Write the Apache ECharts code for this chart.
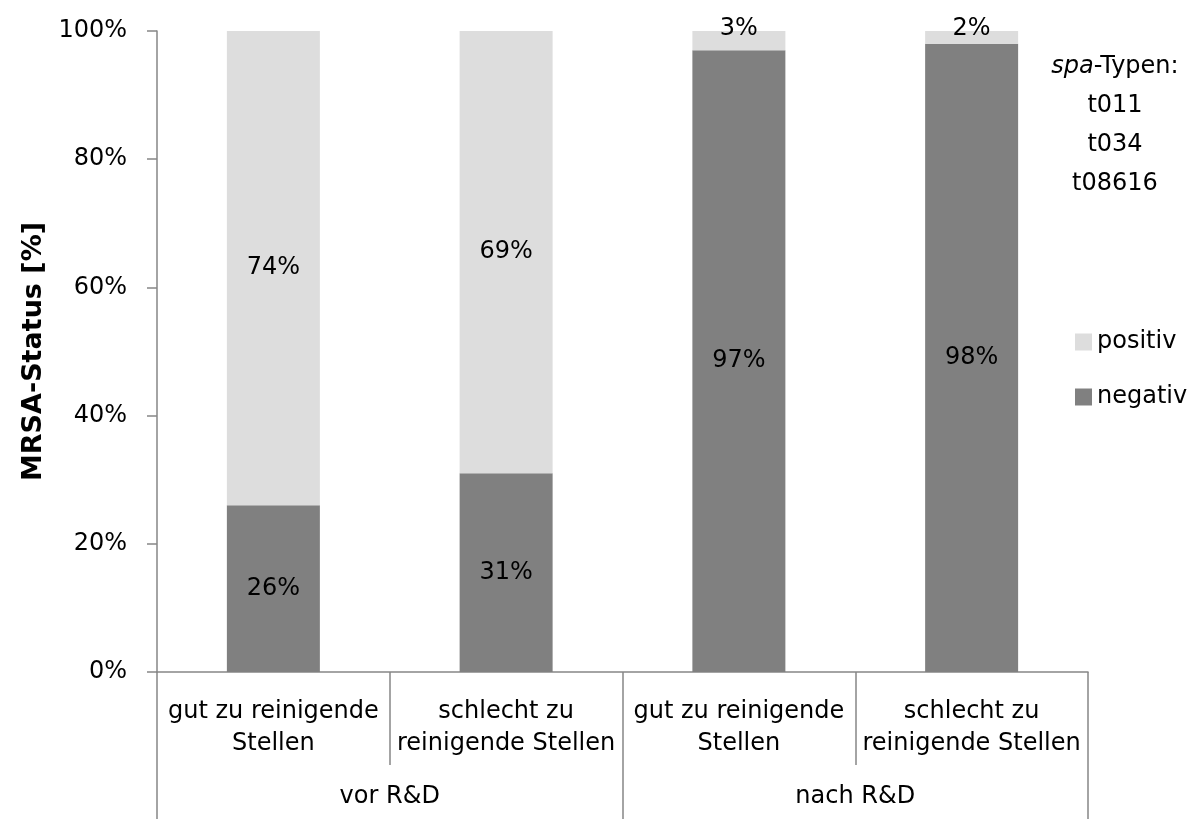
<!DOCTYPE html>
<html>
<head>
<meta charset="utf-8">
<script src="https://cdn.jsdelivr.net/npm/echarts@6/dist/echarts.min.js"></script>
<style>
  html, body { margin: 0; padding: 0; background: #fff; }
  #chart { width: 1199px; height: 819px; }
</style>
</head>
<body>
<div id="chart"></div>
<script>
// Sampling sites, grouped by before / after cleaning & disinfection
const categories = [
  'gut zu reinigende\nStellen',
  'schlecht zu\nreinigende Stellen',
  'gut zu reinigende\nStellen',
  'schlecht zu\nreinigende Stellen'
];
const groups = ['vor R&D', 'nach R&D'];

// MRSA status shares in percent
const negativValues = [26, 31, 97, 98];
const positivValues = [74, 69, 3, 2];

const yTicks = [0, 20, 40, 60, 80, 100];
const spaTypes = ['t011', 't034', 't08616'];

const FONT = 'DejaVu Sans';
const AXIS_GRAY = '#868686';
const COLOR_POS = '#dddddd';
const COLOR_NEG = '#808080';

const chart = echarts.init(document.getElementById('chart'));

const labelBase = {
  show: true,
  position: 'inside',
  color: '#000',
  fontFamily: FONT,
  fontSize: 24,
  formatter: p => p.value + '%'
};

// small segments get their label just above the bar
const positivData = positivValues.map(v => v < 10
  ? { value: v, label: { position: 'top', distance: -10 } }
  : v);

chart.setOption({
  animation: false,
  textStyle: { fontFamily: FONT },
  grid: { left: 157, right: 111, top: 31, bottom: 147, containLabel: false },
  legend: {
    orient: 'vertical',
    left: 1070,
    top: 325,
    itemWidth: 17,
    itemHeight: 17,
    itemGap: 31,
    icon: 'rect',
    data: ['positiv', 'negativ'],
    textStyle: { fontFamily: FONT, fontSize: 24, color: '#000', padding: [0, 0, 0, 0] }
  },
  xAxis: [
    {
      type: 'category',
      data: categories,
      position: 'bottom',
      axisLine: { show: true, lineStyle: { color: AXIS_GRAY, width: 1.5 } },
      axisTick: { show: true, interval: 0, length: 93, lineStyle: { color: AXIS_GRAY, width: 1.5 } },
      axisLabel: {
        interval: 0,
        margin: 24,
        color: '#000',
        fontFamily: FONT,
        fontSize: 24,
        lineHeight: 32
      }
    },
    {
      type: 'category',
      data: groups,
      position: 'bottom',
      axisLine: { show: false },
      axisTick: { show: true, interval: 0, length: 150, lineStyle: { color: AXIS_GRAY, width: 1.5 } },
      axisLabel: {
        interval: 0,
        margin: 109,
        color: '#000',
        fontFamily: FONT,
        fontSize: 24,
        lineHeight: 32
      }
    }
  ],
  yAxis: {
    type: 'value',
    min: yTicks[0],
    max: yTicks[yTicks.length - 1],
    interval: 20,
    name: 'MRSA-Status [%]',
    nameLocation: 'middle',
    nameRotate: 90,
    nameGap: 98,
    nameTextStyle: { fontFamily: FONT, fontSize: 27, fontWeight: 'bold', color: '#000' },
    axisLine: { show: true, lineStyle: { color: AXIS_GRAY, width: 1.5 } },
    axisTick: { show: true, length: 10, lineStyle: { color: AXIS_GRAY, width: 1.5 } },
    splitLine: { show: false },
    axisLabel: {
      margin: 30,
      color: '#000',
      fontFamily: FONT,
      fontSize: 24,
      formatter: '{value}%'
    }
  },
  series: [
    {
      name: 'negativ',
      type: 'bar',
      stack: 'status',
      barWidth: 93,
      data: negativValues,
      itemStyle: { color: COLOR_NEG },
      label: labelBase
    },
    {
      name: 'positiv',
      type: 'bar',
      stack: 'status',
      barWidth: 93,
      data: positivData,
      itemStyle: { color: COLOR_POS },
      label: labelBase
    }
  ],
  graphic: [
    {
      type: 'text',
      x: 1115,
      y: 47,
      style: {
        text: '{i|spa}{n|-Typen:}\n' + spaTypes.map(t => '{n|' + t + '}').join('\n'),
        align: 'center',
        verticalAlign: 'top',
        fill: '#000',
        fontFamily: FONT,
        fontSize: 24,
        lineHeight: 39,
        rich: {
          i: { fontStyle: 'italic', fontFamily: FONT, fontSize: 24, lineHeight: 39, align: 'center' },
          n: { fontFamily: FONT, fontSize: 24, lineHeight: 39, align: 'center' }
        }
      }
    }
  ]
});
</script>
</body>
</html>
